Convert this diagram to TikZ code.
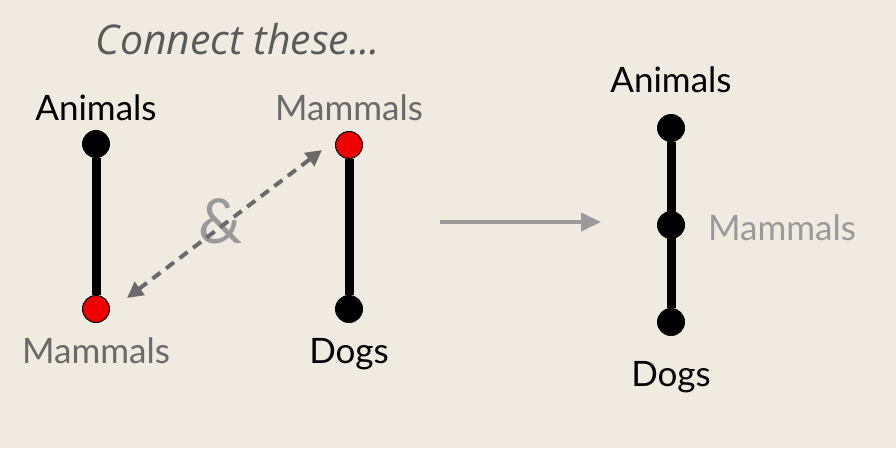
\documentclass[tikz,border=0pt]{standalone}
\usepackage{fontspec}
\setmainfont{Lato}
\newfontfamily\handfont{Open Sans}
\usetikzlibrary{arrows.meta,backgrounds}
\definecolor{bg}{HTML}{EFEBE0}
\definecolor{dotred}{HTML}{EE0000}
\definecolor{midgray}{HTML}{6A6A6A}
\definecolor{lightgray}{HTML}{9A9A9A}
\definecolor{titlegray}{HTML}{5A5A5A}
\tikzset{
  dot/.style={circle,fill=black,inner sep=0pt,minimum size=28pt},
  reddot/.style={circle,fill=dotred,draw=black,line width=1pt,inner sep=0pt,minimum size=27pt},
  lbl/.style={font=\fontsize{35}{40}\selectfont,anchor=base,inner sep=0pt},
  chain/.style={line width=9pt,black},
  dasharrow/.style={midgray,line width=4pt,dash pattern=on 10pt off 7pt,{Triangle[length=16pt,width=16pt]}-{Triangle[length=16pt,width=16pt]}},
  bigarrow/.style={lightgray,line width=4pt,-{Triangle[length=20pt,width=18pt]}}
}
\begin{document}
\begin{tikzpicture}[x=1pt,y=-1pt]
\useasboundingbox (0,0) rectangle (896,448);
% title
\node[anchor=base,inner sep=0pt,text=titlegray,font=\handfont\itshape\fontsize{41}{46}\selectfont] (title) at (238,54) {Connect these...};
% left chain
\node[dot] (la) at (96,144) {};
\node[reddot] (lm) at (96,309) {};
\node[lbl] (laL) at (96,120) {Animals};
\node[lbl,text=midgray] (lmL) at (96,363) {Mammals};
% middle chain
\node[reddot] (mm) at (349,145) {};
\node[dot] (md) at (349,309) {};
\node[lbl,text=midgray] (mmL) at (349,120) {Mammals};
\node[lbl] (mdL) at (349,363) {Dogs};
% right chain
\node[dot] (ra) at (671,128) {};
\node[dot] (rm) at (671,225) {};
\node[dot] (rd) at (671,322) {};
\node[lbl] (raL) at (671,92) {Animals};
\node[lbl,anchor=base west,text=lightgray] (rmL) at (708,240) {Mammals};
\node[lbl] (rdL) at (671,386) {Dogs};
% ampersand
\node[text=lightgray,font=\fontsize{62}{66}\selectfont,inner sep=0pt,anchor=base] (amp) at (221,243) {\&};
% arrows
\coordinate (d1) at (127,298);
\coordinate (d2) at (322,150);
\draw[dasharrow] (d1) -- (d2);
\coordinate (b1) at (440,222);
\coordinate (b2) at (601,222);
\draw[bigarrow] (b1) -- (b2);
\begin{pgfonlayer}{background}
\fill[bg] (0,0) rectangle (896,448);
\draw[chain] (la) -- (lm);
\draw[chain] (mm) -- (md);
\draw[chain] (ra) -- (rd);
\end{pgfonlayer}
\end{tikzpicture}
\end{document}
